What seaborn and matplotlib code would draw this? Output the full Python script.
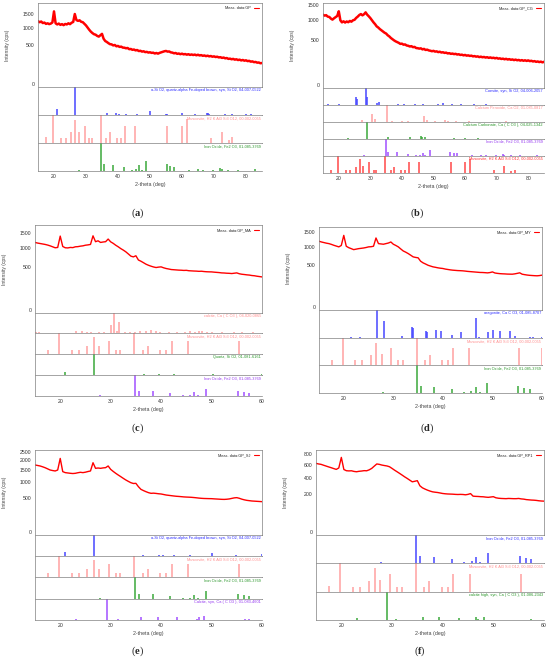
import numpy as np
import pandas as pd
import seaborn as sns
import matplotlib.pyplot as plt

W, H = 550, 669

# measured patterns, counts every 0.5 deg 2-theta
TT_WIDE = np.arange(15.0, 85.01, 0.5)
TT_NARROW = np.arange(15.0, 60.01, 0.5)

gp = [1230, 1190, 1215, 1160, 1175, 1130, 1150, 1120, 1140, 1180,
      1620, 1150, 1110, 1140, 1095, 1120, 1085, 1125, 1110, 1150,
      1120, 1170, 1200, 1510, 1270, 1240, 1260, 1205, 1190, 1130,
      1075, 1000, 930, 870, 825, 790, 775, 740, 720, 760,
      800, 660, 600, 575, 545, 520, 515, 490, 500, 470,
      478, 455, 462, 440, 438, 425, 432, 405, 410, 392,
      398, 380, 388, 366, 372, 355, 362, 345, 350, 336,
      342, 330, 334, 318, 328, 315, 330, 340, 352, 362,
      368, 355, 358, 340, 335, 322, 328, 312, 318, 305,
      315, 302, 308, 296, 305, 292, 300, 290, 298, 285,
      295, 282, 288, 276, 282, 270, 278, 266, 272, 260,
      266, 255, 260, 248, 252, 240, 246, 233, 238, 224,
      228, 218, 224, 212, 218, 206, 212, 200, 207, 196,
      202, 190, 194, 182, 186, 175, 178, 168, 170, 160,
      163]

gp_cg = [1160, 1130, 1145, 1100, 1090, 1040, 1010, 1050, 1085, 1120,
         1270, 990, 930, 960, 925, 955, 935, 970, 950, 990,
         1005, 1060, 1100, 1150, 1180, 1140, 1175, 1235, 1160, 1110,
         1055, 990, 930, 880, 820, 790, 750, 720, 690, 660,
         640, 600, 575, 540, 515, 490, 470, 455, 440, 420,
         425, 405, 410, 390, 385, 372, 378, 360, 365, 345,
         342, 335, 340, 322, 330, 312, 318, 305, 300, 292,
         298, 286, 290, 278, 284, 272, 276, 266, 270, 258,
         262, 252, 256, 248, 252, 242, 246, 236, 240, 230,
         236, 226, 230, 222, 226, 216, 220, 212, 216, 206,
         212, 204, 208, 200, 205, 196, 202, 194, 198, 190,
         196, 186, 190, 182, 186, 178, 184, 175, 180, 172,
         176, 168, 174, 166, 170, 162, 168, 160, 166, 158,
         165, 156, 160, 152, 156, 148, 152, 145, 150, 142,
         148]

gp_ma = [1170, 1150, 1135, 1120, 1105, 1085, 1060, 1030, 1000, 1010,
         1390, 1040, 1000, 995, 1010, 1005, 1030, 1035, 1050, 1060,
         1080, 1090, 1105, 1400, 1195, 1225, 1170, 1185, 1195, 1285,
         1190, 1140, 1080, 1030, 975, 930, 880, 820, 760, 740,
         770, 660, 630, 595, 560, 535, 515, 498, 486, 495,
         500, 480, 465, 455, 444, 440, 436, 432, 430, 426,
         428, 420, 417, 414, 412, 408, 410, 404, 400, 398,
         397, 392, 388, 384, 378, 376, 372, 370, 366, 372,
         378, 362, 353, 348, 342, 338, 330, 326, 318, 312,
         306]

gp_my = [1180, 1155, 1135, 1115, 1100, 1075, 1045, 1020, 995, 1040,
         1390, 1015, 970, 940, 910, 925, 940, 950, 960, 975,
         995, 1000, 1015, 1295, 1100, 1090, 1080, 1100, 1120, 1155,
         1080, 1040, 995, 930, 870, 835, 795, 750, 705, 690,
         680, 595, 555, 528, 500, 482, 465, 455, 444, 436,
         430, 418, 410, 402, 396, 392, 388, 386, 383, 378,
         372, 368, 364, 360, 356, 352, 351, 348, 344, 350,
         362, 342, 335, 330, 327, 325, 322, 321, 320, 326,
         335, 345, 320, 312, 305, 300, 297, 294, 292, 296,
         303]

gp_sj = [1765, 1740, 1715, 1675, 1630, 1575, 1520, 1495, 1475, 1520,
         2110, 1445, 1400, 1385, 1370, 1360, 1370, 1395, 1415, 1400,
         1420, 1450, 1475, 1880, 1600, 1615, 1600, 1620, 1632, 1715,
         1550, 1455, 1370, 1295, 1225, 1155, 1090, 1035, 985, 955,
         960, 840, 750, 710, 675, 645, 625, 630, 622, 612,
         605, 590, 575, 566, 557, 548, 540, 535, 529, 522,
         518, 515, 511, 505, 498, 490, 484, 480, 478, 476,
         475, 470, 466, 462, 458, 456, 460, 468, 482, 496,
         502, 485, 462, 445, 432, 424, 416, 412, 408, 404,
         400]

gp_rp1 = [622, 612, 605, 590, 576, 562, 549, 535, 522, 545,
          730, 520, 501, 498, 500, 490, 485, 492, 496, 502,
          500, 515, 538, 575, 612, 605, 593, 585, 578, 565,
          538, 510, 485, 460, 435, 410, 388, 365, 343, 350,
          358, 294, 270, 256, 244, 234, 226, 222, 219, 214,
          209, 206, 204, 203, 202, 200, 199, 200, 199, 196,
          200, 208, 183, 181, 180, 178, 177, 174, 172, 175,
          178, 168, 164, 162, 161, 160, 162, 161, 160, 160,
          162, 158, 156, 152, 150, 148, 147, 145, 142, 140,
          139]

# reference stick patterns: 2-theta and relative intensity (%)
muscovite_pos = [17.6, 19.8, 22.3, 23.7, 25.4, 26.6, 27.7, 29.6, 31.0, 31.9,
                 34.7, 36.4, 37.4, 39.8, 41.0, 42.1, 45.3, 55.4, 60.1, 61.5,
                 69.2, 72.4, 74.6, 75.7]
muscovite_int = [20, 100, 18, 18, 38, 82, 40, 62, 18, 18,
                 100, 18, 38, 18, 18, 62, 62, 62, 62, 85,
                 18, 40, 10, 20]

iron_oxide_pos = [27.9, 34.8, 35.6, 38.3, 41.8, 44.3, 45.7, 46.6, 47.4, 48.9,
                  55.2, 56.4, 57.5, 62.2, 65.0, 66.6, 69.8, 72.0, 72.4, 74.4,
                  77.4, 82.8]
iron_oxide_int = [3, 100, 25, 22, 14, 3, 6, 20, 5, 35,
                  25, 18, 15, 5, 8, 5, 5, 12, 8, 5,
                  3, 8]

quartz_pos = [20.9, 26.6, 36.5, 39.5, 40.3, 42.5, 45.8, 50.1, 54.9, 55.3,
              60.0, 64.0, 67.7, 68.1, 68.3, 73.5, 75.7, 77.7, 79.9, 81.5]
quartz_int = [20, 100, 6, 6, 3, 5, 3, 13, 4, 2,
              8, 2, 6, 7, 4, 2, 3, 1, 2, 2]

quartz_ma_pos = [20.9, 26.7, 36.6, 39.5, 40.3, 42.5, 45.8, 50.2, 54.9, 55.4, 60.0]
quartz_ma_int = [14, 100, 3, 4, 2, 3, 2, 5, 2, 1, 4]

coesite_pos = [16.5, 20.1, 25.6, 25.9, 28.6, 28.9, 32.2, 32.7, 38.7, 40.7,
               44.0, 46.7, 51.5, 53.0, 56.0, 58.6, 62.9, 66.6, 72.0]
coesite_int = [3, 5, 45, 35, 100, 50, 12, 18, 5, 3,
               3, 3, 8, 10, 3, 4, 3, 3, 2]

ca_peroxide_pos = [27.4, 30.4, 31.4, 35.2, 36.8, 40.0, 41.8, 47.1, 47.8, 50.6,
                   53.5, 54.6, 57.0, 61.3, 73.0]
ca_peroxide_int = [10, 50, 15, 100, 5, 5, 8, 35, 10, 5,
                   10, 6, 3, 3, 3]

ca_carbonate_pos = [22.9, 28.9, 35.6, 42.5, 45.9, 46.3, 47.3, 56.6, 60.0, 64.2, 72.5]
ca_carbonate_int = [4, 100, 12, 14, 18, 12, 10, 4, 3, 3, 2]

calcite_ma_pos = [15.2, 15.8, 23.1, 24.4, 25.4, 26.2, 27.7, 28.7, 30.1, 30.7,
                  31.3, 31.7, 32.8, 33.8, 34.8, 35.8, 37.0, 38.0, 38.9, 39.8,
                  41.6, 43.1, 44.8, 45.8, 46.8, 47.5, 48.1, 49.1, 50.1, 52.0,
                  54.5, 56.0, 58.2]
calcite_ma_int = [5, 5, 8, 8, 5, 3, 5, 5, 40, 100,
                  12, 55, 3, 3, 5, 8, 10, 15, 8, 5,
                  3, 3, 5, 8, 6, 12, 10, 4, 6, 4,
                  5, 4, 3]

aragonite_pos = [21.5, 23.3, 26.7, 28.1, 31.8, 33.8, 34.0, 36.6, 36.8, 38.7,
                 39.6, 41.8, 43.6, 46.7, 47.2, 49.2, 50.1, 51.6, 53.6, 54.5,
                 57.6, 58.1, 59.9]
aragonite_int = [2, 2, 100, 60, 8, 40, 35, 25, 20, 30,
                 25, 12, 20, 72, 5, 20, 30, 25, 25, 8,
                 2, 2, 5]

calcite_sj_pos = [23.1, 29.3, 31.4, 36.0, 39.4, 43.2, 47.1, 47.5, 48.5, 56.6, 57.4, 60.7]
calcite_sj_int = [5, 100, 3, 12, 15, 13, 5, 15, 17, 3, 6, 4]

calcite_high_pos = [23.0, 29.1, 30.7, 36.1, 39.3, 43.2, 46.6, 47.0, 48.1, 57.4]
calcite_high_int = [8, 100, 2, 12, 10, 8, 12, 5, 10, 4]

MUSC = "Muscovite, H2 K Al3 Si3 O12, 00-002-0055"
FEOX = "Iron Oxide, Fe2 O3, 01-085-3769"
QTZ = "a-Si O2, quartz-alpha Fe-doped brown, syn, Si O2, 04-007-0522"

BLUE = ("#4646ff", "#2a2aff")
PINK = ("#ffa0a0", "#ff8c8c")
GREEN = ("#3aa83a", "#2a962a")
PURPLE = ("#a050ff", "#9436f0")
RED = ("#ff4848", "#ff3030")


def fwd(v):
    return np.sqrt(np.clip(v, 0, None))


def inv(v):
    return np.square(v)


def box(l, t, r, b):
    return [l / W, 1 - b / H, (r - l) / W, (b - t) / H]


def style_spines(ax):
    for s in ax.spines.values():
        s.set_color("#808080")
        s.set_linewidth(0.5)


def panel(fig, l, r, t, edges, x, y, ymax, yticks, sample, refs, xmax, letter, lxy, lw):
    ax = fig.add_axes(box(l, t, r, edges[0]))
    df = pd.DataFrame({"two_theta": x, "counts": y})
    sns.lineplot(data=df, x="two_theta", y="counts", ax=ax, color="red",
                 lw=lw, label=f"Meas. data:{sample}")
    ax.set_yscale("function", functions=(fwd, inv))
    ax.set_ylim(0, ymax)
    ax.set_xlim(15, xmax)
    ax.set_yticks(yticks)
    ax.set_yticklabels([str(v) for v in yticks])
    ax.get_yticklabels()[0].set_verticalalignment("bottom")
    ax.tick_params(axis="y", length=1.5, width=0.4, labelsize=3.7, pad=1,
                   labelcolor="#333333", color="#808080")
    ax.tick_params(axis="x", bottom=False, labelbottom=False)
    ax.set_xlabel("")
    ax.set_ylabel("Intensity (cps)", fontsize=3.6, color="#444444")
    ax.yaxis.set_label_coords(-0.125, 0.5)
    style_spines(ax)
    leg = ax.legend(loc="upper right", frameon=False, fontsize=2.8,
                    markerfirst=False, handlelength=1.3, borderaxespad=0.4)
    for h in leg.get_lines():
        h.set_linewidth(0.8)

    for i, (name, pos, inten, cols) in enumerate(refs):
        rax = fig.add_axes(box(l, edges[i], r, edges[i + 1]))
        rax.vlines(pos, 0, inten, colors=cols[0], lw=1.1)
        rax.set_xlim(15, xmax)
        rax.set_ylim(0, 100)
        rax.set_yticks([0, 20, 40, 60, 80])
        rax.set_yticklabels([])
        rax.tick_params(axis="y", length=1.5, width=0.4, color="#808080")
        style_spines(rax)
        rax.spines["right"].set_visible(False)
        rax.text(0.995, 0.95, name, transform=rax.transAxes, ha="right",
                 va="top", color=cols[1], fontsize=2.8)
        if i < len(refs) - 1:
            rax.tick_params(axis="x", bottom=False, labelbottom=False)
        else:
            rax.set_xticks(np.arange(20, xmax + 1, 10))
            rax.tick_params(axis="x", length=1.5, width=0.4, labelsize=3.7,
                            pad=1, labelcolor="#333333", color="#808080")
            rax.set_xlabel("2-theta (deg)", fontsize=3.8, color="#444444",
                           labelpad=1.5)

    fig.text(lxy[0] / W, 1 - lxy[1] / H, r"($\mathbf{%s}$)" % letter,
             ha="center", va="center", fontsize=7.5, family="Liberation Serif")


sns.set_theme(style="white")
plt.rcParams["font.family"] = ["Liberation Sans", "DejaVu Sans"]
plt.rcParams["mathtext.fontset"] = "custom"
plt.rcParams["mathtext.bf"] = "Liberation Serif:bold"
plt.rcParams["mathtext.rm"] = "Liberation Serif"

fig = plt.figure(figsize=(5.5, 6.69), dpi=100)

panel(fig, 38, 262, 3, [87, 115, 143, 171], TT_WIDE, gp, 2000,
      [0, 500, 1000, 1500], "GP",
      [(QTZ, quartz_pos, quartz_int, BLUE),
       (MUSC, muscovite_pos, muscovite_int, PINK),
       (FEOX, iron_oxide_pos, iron_oxide_int, GREEN)],
      85, "a", (138, 213), 1.8)

panel(fig, 323, 544, 3, [88, 105, 122, 139, 156, 173], TT_WIDE, gp_cg, 1560,
      [0, 500, 1000, 1500], "GP_CG",
      [("Coesite, syn, Si O2, 04-006-2057", coesite_pos, coesite_int, BLUE),
       ("Calcium Peroxide, Ca O2, 01-085-0817", ca_peroxide_pos, ca_peroxide_int, PINK),
       ("Calcium Carbonate, Ca ( C O3 ), 04-025-1342", ca_carbonate_pos, ca_carbonate_int, GREEN),
       (FEOX, iron_oxide_pos, iron_oxide_int, PURPLE),
       (MUSC, muscovite_pos, muscovite_int, RED)],
      85, "b", (417, 213), 1.8)

panel(fig, 35, 262, 225, [313, 333, 354, 375, 396], TT_NARROW, gp_ma, 1820,
      [0, 500, 1000, 1500], "GP_MA",
      [("calcite, Ca ( C O3 ), 04-020-0865", calcite_ma_pos, calcite_ma_int, PINK),
       (MUSC, muscovite_pos, muscovite_int, PINK),
       ("Quartz, Si O2, 01-081-6161", quartz_ma_pos, quartz_ma_int, GREEN),
       (FEOX, iron_oxide_pos, iron_oxide_int, PURPLE)],
      60, "c", (137, 428), 1.0)

panel(fig, 319, 542, 227, [310, 338, 365, 393], TT_NARROW, gp_my, 1720,
      [0, 500, 1000, 1500], "GP_MY",
      [("aragonite, Ca C O3, 01-085-8707", aragonite_pos, aragonite_int, BLUE),
       (MUSC, muscovite_pos, muscovite_int, PINK),
       (FEOX, iron_oxide_pos, iron_oxide_int, GREEN)],
      60, "d", (427, 428), 1.0)

panel(fig, 35, 262, 450, [535, 556, 577, 599, 620], TT_NARROW, gp_sj, 2600,
      [0, 500, 1000, 1500, 2000, 2500], "GP_SJ",
      [(QTZ, quartz_pos, quartz_int, BLUE),
       (MUSC, muscovite_pos, muscovite_int, PINK),
       (FEOX, iron_oxide_pos, iron_oxide_int, GREEN),
       ("Calcite, syn, Ca ( C O3 ), 01-083-4601", calcite_sj_pos, calcite_sj_int, PURPLE)],
      60, "e", (137, 651), 1.0)

panel(fig, 316, 544, 450, [535, 563, 592, 620], TT_NARROW, gp_rp1, 876,
      [0, 200, 400, 600, 800], "GP_RP1",
      [(FEOX, iron_oxide_pos, iron_oxide_int, BLUE),
       (MUSC, muscovite_pos, muscovite_int, PINK),
       ("calcite high, syn, Ca ( C O3 ), 01-086-2343", calcite_high_pos, calcite_high_int, GREEN)],
      60, "f", (420, 651), 1.0)

fig.savefig("out.png", dpi=100)
